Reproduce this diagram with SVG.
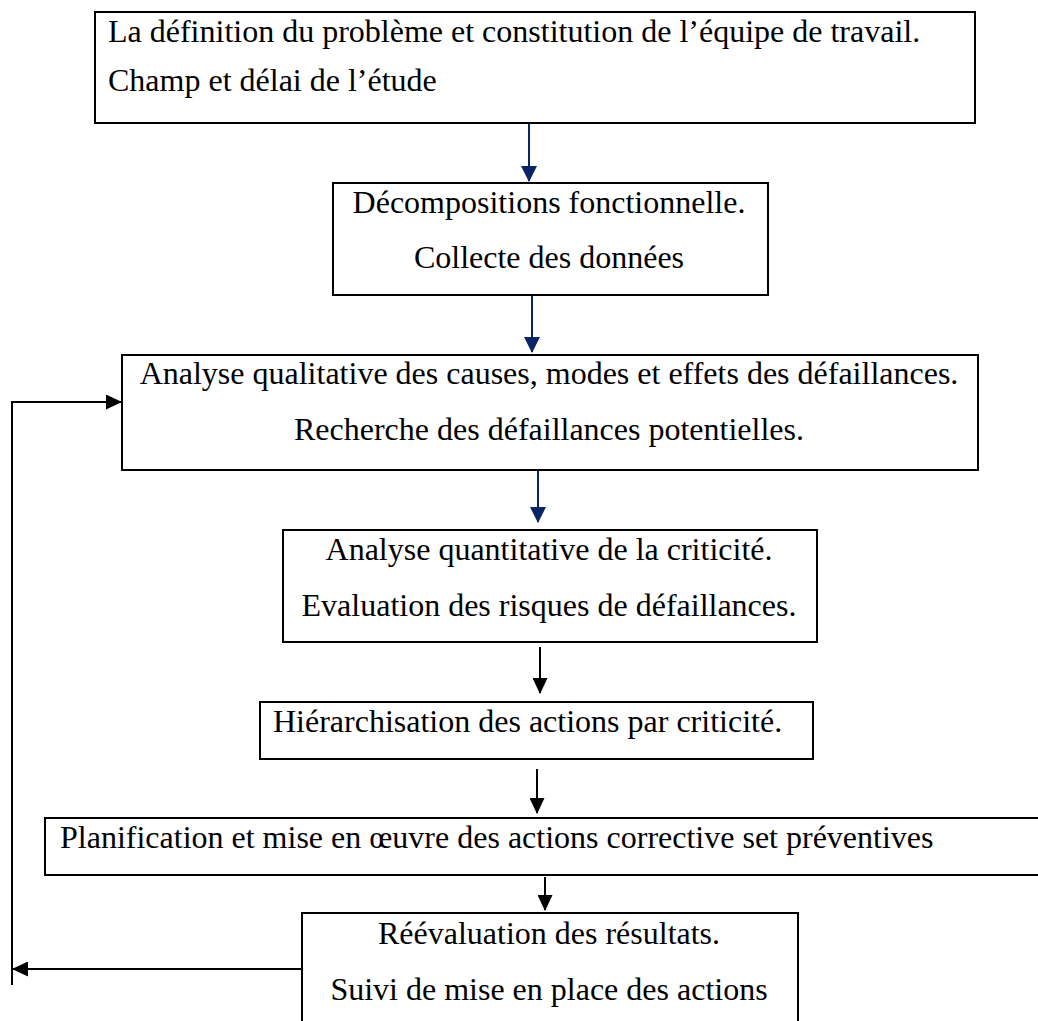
<svg xmlns="http://www.w3.org/2000/svg" width="1038" height="1021" viewBox="0 0 1038 1021">
  <style>
    .box { fill: #ffffff; stroke: #000000; stroke-width: 2; }
    .txt { font-family: "Liberation Serif", "Times New Roman", serif; font-size: 32px; fill: #000000; }
    .mid { text-anchor: middle; }
    .navy { stroke: #0b2466; stroke-width: 2; fill: none; }
    .blk { stroke: #000000; stroke-width: 2; fill: none; }
  </style>
  <defs>
    <marker id="headNavy" markerUnits="userSpaceOnUse" markerWidth="16" markerHeight="16" viewBox="0 0 16 16" refX="15" refY="8" orient="auto">
      <path d="M0,0 L16,8 L0,16 Z" fill="#0b2466"/>
    </marker>
    <marker id="headBlack" markerUnits="userSpaceOnUse" markerWidth="16" markerHeight="15" viewBox="0 0 16 15" refX="15" refY="7.5" orient="auto">
      <path d="M0,0 L16,7.5 L0,15 Z" fill="#000000"/>
    </marker>
  </defs>

  <rect width="1038" height="1021" fill="#ffffff"/>

  <!-- steps of the analysis -->
  <g id="step-definition">
    <rect class="box" x="95" y="12" width="880" height="111"/>
    <text class="txt" x="108" y="42">La définition du problème et constitution de l’équipe de travail.</text>
    <text class="txt" x="108" y="91">Champ et délai de l’étude</text>
  </g>

  <g id="step-decomposition">
    <rect class="box" x="333" y="183" width="435" height="112"/>
    <text class="txt mid" x="549" y="213">Décompositions fonctionnelle.</text>
    <text class="txt mid" x="549" y="268">Collecte des données</text>
  </g>

  <g id="step-qualitative">
    <rect class="box" x="122" y="355" width="856" height="115"/>
    <text class="txt mid" x="549" y="384">Analyse qualitative des causes, modes et effets des défaillances.</text>
    <text class="txt mid" x="549" y="440">Recherche des défaillances potentielles.</text>
  </g>

  <g id="step-quantitative">
    <rect class="box" x="283" y="530" width="534" height="112"/>
    <text class="txt mid" x="549" y="560">Analyse quantitative de la criticité.</text>
    <text class="txt mid" x="549" y="616">Evaluation des risques de défaillances.</text>
  </g>

  <g id="step-hierarchy">
    <rect class="box" x="260" y="702" width="553" height="57"/>
    <text class="txt" x="273" y="732">Hiérarchisation des actions par criticité.</text>
  </g>

  <g id="step-planning">
    <rect class="box" x="45" y="818" width="1000" height="57"/>
    <text class="txt" x="60" y="848">Planification et mise en œuvre des actions corrective set préventives</text>
  </g>

  <g id="step-review">
    <rect class="box" x="302" y="913" width="496" height="120"/>
    <text class="txt mid" x="549" y="944">Réévaluation des résultats.</text>
    <text class="txt mid" x="549" y="1000">Suivi de mise en place des actions</text>
  </g>

  <!-- connectors -->
  <g id="connectors">
    <line class="navy" x1="529" y1="124" x2="529" y2="181" marker-end="url(#headNavy)"/>
    <line class="navy" x1="532" y1="296" x2="532" y2="352" marker-end="url(#headNavy)"/>
    <line class="navy" x1="538" y1="471" x2="538" y2="522" marker-end="url(#headNavy)"/>
    <line class="blk" x1="540" y1="647" x2="540" y2="693" marker-end="url(#headBlack)"/>
    <line class="blk" x1="537" y1="769" x2="537" y2="813" marker-end="url(#headBlack)"/>
    <line class="blk" x1="545" y1="877" x2="545" y2="910" marker-end="url(#headBlack)"/>
    <!-- loop back from the review to the qualitative analysis -->
    <line class="blk" x1="302" y1="969" x2="13" y2="969" marker-end="url(#headBlack)"/>
    <polyline class="blk" points="12,985 12,402 121,402" marker-end="url(#headBlack)"/>
  </g>
</svg>
